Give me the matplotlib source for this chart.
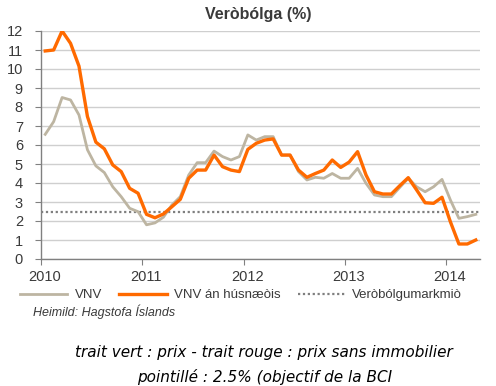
import matplotlib

matplotlib.use("Agg")
import matplotlib.pyplot as plt  # noqa: E402
import numpy as np  # noqa: E402

plt.rcParams.update({"font.family": "Liberation Sans"})

# Monthly inflation, Jan 2010 - Apr 2014 (12-month change, %)
years = ["2010", "2011", "2012", "2013", "2014"]
vnv = [6.56, 7.23, 8.50, 8.37, 7.58, 5.75, 4.90, 4.55, 3.80, 3.28, 2.67, 2.49,
       1.80, 1.90, 2.20, 2.84, 3.28, 4.42, 5.07, 5.07, 5.68, 5.39, 5.21, 5.39,
       6.53, 6.26, 6.44, 6.44, 5.47, 5.47, 4.60, 4.16, 4.30, 4.25, 4.50, 4.25,
       4.25, 4.77, 3.98, 3.37, 3.28, 3.28, 3.77, 4.25, 3.80, 3.54, 3.80, 4.19,
       3.10, 2.14, 2.23, 2.35]
vnv_an_husn = [10.95, 11.00, 12.00, 11.35, 10.15, 7.50, 6.15, 5.80, 4.95, 4.60, 3.72, 3.46,
               2.35, 2.17, 2.37, 2.75, 3.14, 4.25, 4.68, 4.68, 5.47, 4.86, 4.68, 4.60,
               5.77, 6.09, 6.26, 6.32, 5.47, 5.47, 4.68, 4.30, 4.50, 4.68, 5.21, 4.82,
               5.10, 5.65, 4.42, 3.54, 3.42, 3.42, 3.86, 4.28, 3.63, 2.96, 2.93, 3.25,
               1.95, 0.79, 0.79, 1.00]
target = 2.5

ORANGE = "#ff6a00"
TAN = "#bdb5a2"
DOT = "#7f7f7f"
GRID = "#cfcfcf"
TXT = "#3a3a3a"

fig = plt.figure(figsize=(4.96, 3.86), dpi=100)
ax = fig.add_axes([41 / 496, 1 - 259 / 386, 439 / 496, 228 / 386])

x = np.arange(len(vnv)) + 0.5
ax.plot(x, vnv, color=TAN, lw=2.0, zorder=3, label="VNV")
ax.plot(x, vnv_an_husn, color=ORANGE, lw=2.4, zorder=4, label="VNV án húsnæòis")
ax.axhline(target, color=DOT, lw=1.6, ls=(0, (1, 1.2)), zorder=2,
           label="Veròbólgumarkmiò")

ax.set_xlim(0, 52)
ax.set_ylim(0, 12)
ax.set_yticks(range(0, 13))
ax.yaxis.grid(True, color=GRID, lw=1.0)
ax.set_axisbelow(True)

# year ticks at the boundaries, labels nudged to the first month
ax.set_xticks([12 * i for i in range(len(years))])
ax.set_xticklabels([])
ax.set_xticks([12 * i + 0.45 for i in range(len(years))], minor=True)
ax.set_xticklabels(years, minor=True)
ax.tick_params(axis="x", which="major", length=4, color="#808080", direction="out")
ax.tick_params(axis="x", which="minor", length=0, pad=8, labelsize=10.5, labelcolor=TXT)
ax.tick_params(axis="y", length=4, color="#808080", pad=9, labelsize=10.5, labelcolor=TXT)

for side in ("top", "right"):
    ax.spines[side].set_visible(False)
for side in ("left", "bottom"):
    ax.spines[side].set_color("#808080")
    ax.spines[side].set_linewidth(1.0)

fig.text(258 / 496, 1 - 14 / 386, "Veròbólga (%)", ha="center", va="center",
         fontsize=11.5, fontweight="bold", color=TXT)

handles, labels = ax.get_legend_handles_labels()
fig.legend(handles, labels, ncol=3, loc="center", bbox_to_anchor=(241 / 496, 1 - 295 / 386),
           frameon=False, fontsize=9.5, handlelength=3.6, handletextpad=0.55,
           columnspacing=1.3, labelcolor=TXT)

fig.text(33 / 496, 1 - 312 / 386, "Heimild: Hagstofa Íslands", ha="left", va="center",
         fontsize=9, style="italic", color=TXT)

fig.text(264 / 496, 1 - 352 / 386, "trait vert : prix - trait rouge : prix sans immobilier",
         ha="center", va="center", fontsize=11, style="italic", family="DejaVu Sans",
         color="black")
fig.text(265 / 496, 1 - 377 / 386, "pointillé : 2.5% (objectif de la BCI",
         ha="center", va="center", fontsize=11, style="italic", family="DejaVu Sans",
         color="black")

fig.savefig("out.png", dpi=100, facecolor="white")
